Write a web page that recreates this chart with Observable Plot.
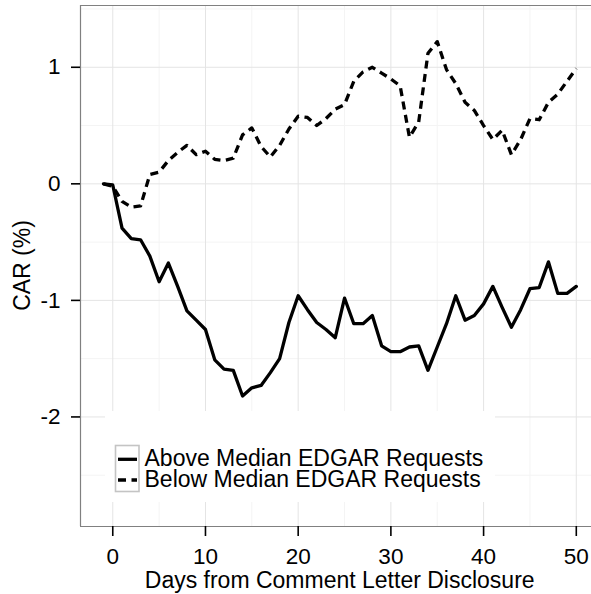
<!DOCTYPE html>
<html>
<head>
<meta charset="utf-8">
<script src="https://cdn.jsdelivr.net/npm/d3@7"></script>
<script src="https://cdn.jsdelivr.net/npm/@observablehq/plot@0.6"></script>
<style>
  html, body { margin: 0; padding: 0; background: white; overflow: hidden; }
  svg { display: block; }
</style>
</head>
<body>
<script>
const days = d3.range(-1, 51);
const aboveMedian = [0.00,-0.01,-0.38,-0.47,-0.48,-0.62,-0.84,-0.68,-0.88,-1.09,-1.17,-1.25,-1.51,-1.59,-1.60,-1.82,-1.75,-1.73,-1.62,-1.50,-1.19,-0.96,-1.08,-1.19,-1.25,-1.32,-0.98,-1.20,-1.20,-1.13,-1.39,-1.44,-1.44,-1.40,-1.39,-1.60,-1.40,-1.20,-0.96,-1.17,-1.13,-1.03,-0.88,-1.06,-1.23,-1.08,-0.90,-0.89,-0.67,-0.94,-0.94,-0.88];
const belowMedian = [0.00,-0.02,-0.15,-0.20,-0.19,0.08,0.10,0.20,0.27,0.33,0.25,0.28,0.21,0.20,0.22,0.42,0.48,0.32,0.23,0.33,0.47,0.58,0.57,0.50,0.56,0.64,0.68,0.88,0.96,1.00,0.95,0.90,0.84,0.40,0.53,1.12,1.22,0.98,0.86,0.70,0.63,0.50,0.38,0.46,0.25,0.38,0.56,0.55,0.70,0.77,0.88,0.99];
const seriesNames = ["Above Median EDGAR Requests", "Below Median EDGAR Requests"];
const xTicks = [0, 10, 20, 30, 40, 50];
const xMinor = [5, 15, 25, 35, 45];
const yTicks = [-2, -1, 0, 1];
const yMinor = [-2.5, -1.5, -0.5, 0.5, 1.5];
const xDomain = [-3.48, 51.64];
const yDomain = [-2.94, 1.53];
const xLabel = "Days from Comment Letter Disclosure";
const yLabel = "CAR (%)";

const above = days.map((d, i) => ({day: d, car: aboveMedian[i]}));
const below = days.map((d, i) => ({day: d, car: belowMedian[i]}));

const FONT = "'Liberation Sans', Arial, Helvetica, sans-serif";
const DASH = "8,5.5";
const FS = 23;

const svg = Plot.plot({
  width: 591,
  height: 594,
  marginLeft: 80,
  marginRight: 0,
  marginTop: 5,
  marginBottom: 68,
  style: {fontFamily: FONT, fontSize: "23px", background: "white", color: "black"},
  x: {domain: xDomain},
  y: {domain: yDomain},
  marks: [
    Plot.ruleX(xMinor, {stroke: "#f4f4f4", strokeWidth: 1}),
    Plot.ruleY(yMinor, {stroke: "#f4f4f4", strokeWidth: 1}),
    Plot.ruleX(xTicks, {stroke: "#e4e4e4", strokeWidth: 1}),
    Plot.ruleY(yTicks, {stroke: "#e4e4e4", strokeWidth: 1}),
    Plot.line(above, {x: "day", y: "car", stroke: "black", strokeWidth: 3.3, strokeLinejoin: "round"}),
    Plot.line(below, {x: "day", y: "car", stroke: "black", strokeWidth: 3.3, strokeDasharray: DASH, strokeLinecap: "butt"}),
    Plot.ruleX([xDomain[0]], {stroke: "#808080", strokeWidth: 1.2}),
    Plot.ruleY(yDomain, {stroke: "#808080", strokeWidth: 1.2}),
    Plot.axisX({ticks: xTicks, tickSize: 10, tickPadding: 12, fontSize: 22.5, label: null, strokeWidth: 1.6, color: "black"}),
    Plot.axisY({ticks: yTicks, tickSize: 9, tickPadding: 11, fontSize: 22.5, label: null, strokeWidth: 1.6, color: "black", tickFormat: d => String(d)})
  ]
});
document.body.appendChild(svg);

const s = d3.select(svg);
// axis titles
s.append("text").attr("x", 339.7).attr("y", 588).attr("text-anchor", "middle")
  .attr("font-family", FONT).attr("font-size", FS).attr("fill", "black").text(xLabel);
s.append("text").attr("transform", "translate(30,265.5) rotate(-90)").attr("text-anchor", "middle")
  .attr("font-family", FONT).attr("font-size", FS).attr("fill", "black").text(yLabel);

// legend
const lg = s.append("g");
lg.append("rect").attr("x", 105).attr("y", 411).attr("width", 390).attr("height", 91).attr("fill", "white");
lg.append("rect").attr("x", 115.5).attr("y", 445.5).attr("width", 23.5).attr("height", 46)
  .attr("fill", "white").attr("stroke", "#c4c4c4").attr("stroke-width", 1.6);
const keyY = [459.3, 480];
const textY = [466.3, 487];
seriesNames.forEach((name, i) => {
  lg.append("line").attr("x1", 118).attr("x2", 137).attr("y1", keyY[i]).attr("y2", keyY[i])
    .attr("stroke", "black").attr("stroke-width", 3.3)
    .attr("stroke-dasharray", i === 0 ? null : DASH);
  lg.append("text").attr("x", 144.5).attr("y", textY[i]).attr("text-anchor", "start")
    .attr("font-family", FONT).attr("font-size", FS).attr("fill", "black").text(name);
});
</script>
</body>
</html>
